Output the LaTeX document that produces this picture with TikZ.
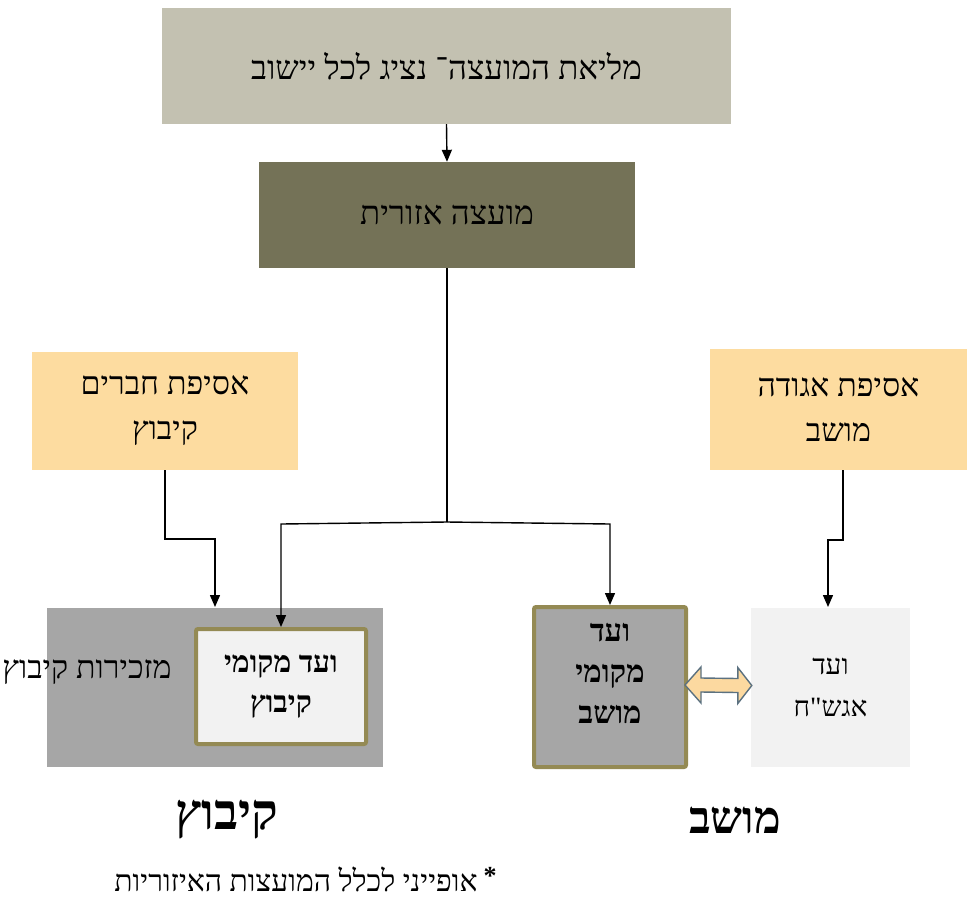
\documentclass[tikz,border=0pt]{standalone}
\usepackage{fontspec}
\setmainfont{Liberation Serif}
\newfontfamily\heb[Script=Hebrew]{Liberation Serif}
\TeXXeTstate=1
\usetikzlibrary{arrows.meta,calc}
\definecolor{topc}{HTML}{C3C1B1}
\definecolor{midc}{HTML}{747257}
\definecolor{yelc}{HTML}{FDDCA0}
\definecolor{greyc}{HTML}{A6A6A6}
\definecolor{lightc}{HTML}{F2F2F2}
\definecolor{olivec}{HTML}{948A54}
\definecolor{dblc}{HTML}{FCD9A0}
\definecolor{dbld}{HTML}{5B7180}
\begin{document}
\begin{tikzpicture}[x=1pt,y=-1pt,
  box/.style={draw=none,inner sep=0pt,align=center,font=\heb\fontsize{33}{42}\selectfont},
  framed/.style={box,draw=olivec,line width=4pt,rounded corners=2pt},
  conn/.style={line width=1.4pt,-{Triangle[length=12pt,width=10pt]}},
  plain/.style={line width=1.4pt}]
\useasboundingbox[fill=white] (0,0) rectangle (967,898);
\node[box,fill=topc,minimum width=569pt,minimum height=116pt] (top) at (446.5,66) {\beginR מליאת המועצה־ נציג לכל יישוב\endR};
\node[box,fill=midc,minimum width=376pt,minimum height=106pt] (mid) at (447,215) {\beginR מועצה אזורית\endR};
\node[box,fill=yelc,minimum width=266pt,minimum height=118pt,font=\heb\fontsize{32}{45}\selectfont] (asK) at (165,411) {\beginR אסיפת חברים\endR\\\beginR קיבוץ\endR};
\node[box,fill=yelc,minimum width=257pt,minimum height=121pt,font=\heb\fontsize{32}{45}\selectfont] (asM) at (838.5,409.5) {\beginR אסיפת אגודה\endR\\\beginR מושב\endR};
\node[box,fill=greyc,minimum width=336pt,minimum height=159pt] (mazk) at (215,687.5) {};
\node[box,font=\heb\fontsize{32}{34}\selectfont] (mazkt) at (87,672) {\beginR מזכירות קיבוץ\endR};
\node[framed,fill=lightc,minimum width=170pt,minimum height=115pt,font=\heb\bfseries\fontsize{30}{40}\selectfont] (vK) at (281,686.5) {\beginR ועד מקומי\endR\\\beginR קיבוץ\endR};
\node[framed,fill=greyc,minimum width=152pt,minimum height=160pt] (vM) at (610,687) {};
\node[box,font=\heb\bfseries\fontsize{31}{41}\selectfont] (vMt) at (610,673) {\beginR ועד\endR\\\beginR מקומי\endR\\\beginR מושב\endR};
\node[box,fill=lightc,minimum width=159pt,minimum height=159pt,font=\heb\fontsize{28}{42}\selectfont] (ag) at (830.5,687.5) {\beginR ועד\endR\\\beginR אגש"ח\endR};
\node[box,font=\heb\bfseries\fontsize{50}{56}\selectfont] (lk) at (227,820) {\beginR קיבוץ\endR};
\node[box,font=\heb\bfseries\fontsize{45}{52}\selectfont] (lm) at (735,820) {\beginR מושב\endR};
\node[box,font=\heb\fontsize{30}{34}\selectfont] (fn) at (296,879) {\beginR אופייני לכלל המועצות האיזוריות\endR};
\node[box,font=\bfseries\fontsize{26}{30}\selectfont] (star) at (490,876) {*};
% connectors
\draw[conn] (top.south) -- (mid.north);
\coordinate (j) at (447,522);
\draw[plain] (mid.south) -- (j);
\draw[conn] (j) -- (281,524) -- (vK.north);
\draw[conn] (j) -- (610,524) -- (vM.north);
\draw[conn] (asK.south -| 165,0) -- (165,539) -- (215,539) -- (215,607);
\draw[conn] (asM.south -| 843,0) -- (843,540) -- (828,540) -- (828,607);
% double arrow
\coordinate (da) at ($(vM.east)+(-3,-2)$);
\coordinate (db) at ($(ag.west)+(1,-2)$);
\draw[dbld,fill=dblc,line width=1.4pt,line join=miter]
  (da) -- ($(da)+(16,-18)$) -- ($(da)+(16,-7)$) -- ($(db)+(-14,-7)$) -- ($(db)+(-14,-18)$) -- (db)
  -- ($(db)+(-14,18)$) -- ($(db)+(-14,7)$) -- ($(da)+(16,7)$) -- ($(da)+(16,18)$) -- cycle;
\end{tikzpicture}
\end{document}
